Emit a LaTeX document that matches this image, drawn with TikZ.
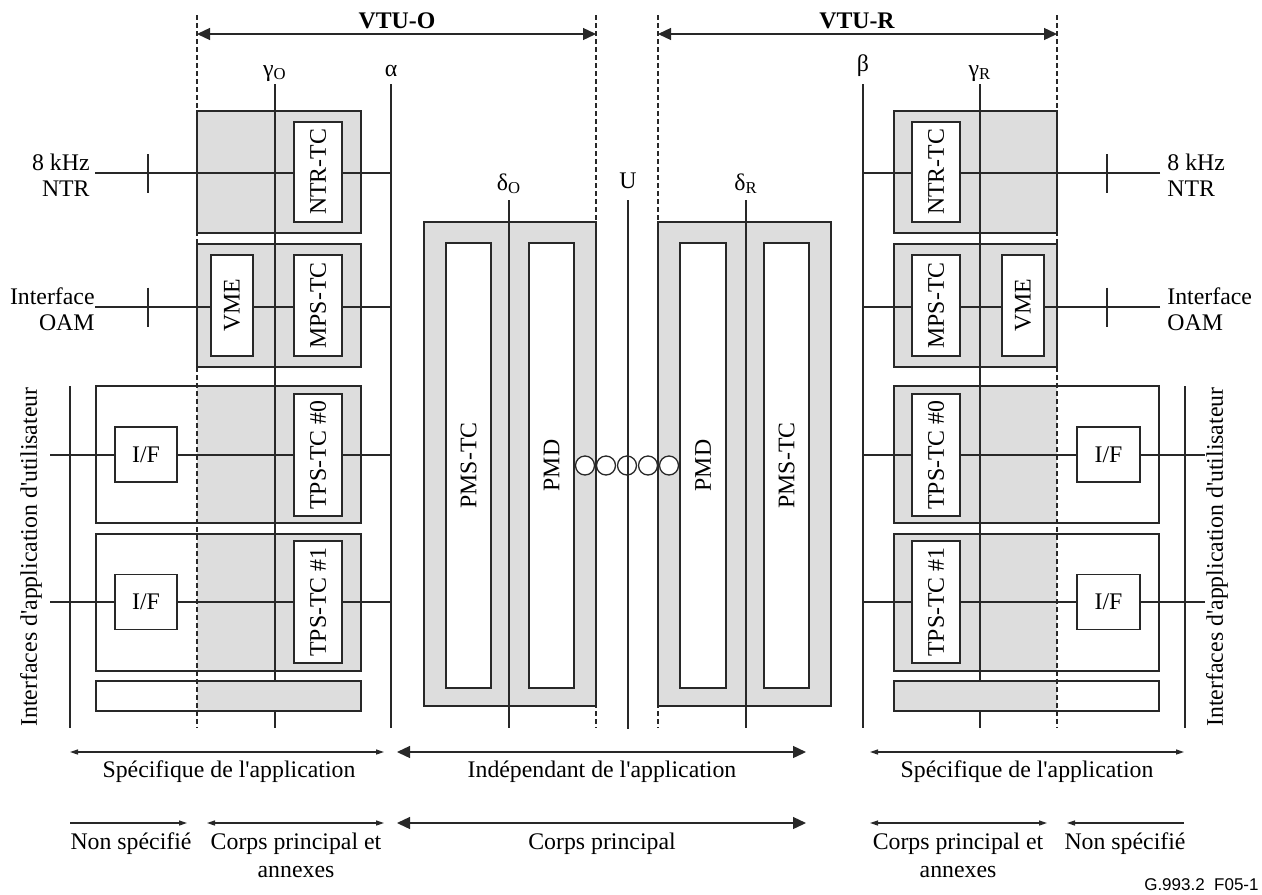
\documentclass[tikz,border=0pt]{standalone}
\usepackage{fontspec}
\setmainfont{Liberation Serif}[Ligatures=TeXOff]
\newfontfamily\figsans{Liberation Sans}
\usetikzlibrary{arrows.meta}

\definecolor{lgray}{RGB}{221,221,221}
\definecolor{ink}{RGB}{40,40,40}

\begin{document}
\begin{tikzpicture}[
        x=0.5pt, y=-0.5pt,
        font=\fontsize{11.9}{13}\selectfont,
        ln/.style={draw=ink, line width=0.65pt},
        dsh/.style={draw=ink, line width=0.65pt, dash pattern=on 2.5pt off 1.5pt},
        tkblk/.style={draw=ink, line width=1pt, fill=lgray, inner sep=0pt},
        thblk/.style={draw=ink, line width=0.65pt, inner sep=0pt},
        halfO/.style={thblk, fill=white,
            path picture={\fill[lgray] (path picture bounding box.north east) rectangle (path picture bounding box.south west -| dO);}},
        halfR/.style={thblk, fill=white,
            path picture={\fill[lgray] (path picture bounding box.north west) rectangle (path picture bounding box.south east -| dR);}},
        tcbox/.style={draw=ink, line width=0.65pt, fill=white, rotate=90, inner sep=0pt, minimum height=24pt},
        ifbox/.style={draw=ink, line width=0.65pt, fill=white, inner sep=0pt, minimum width=31pt, minimum height=27.5pt},
        refl/.style={inner sep=0pt, anchor=base},
        hdr/.style={refl, font=\fontsize{11.9}{13}\selectfont\bfseries},
        sidetxt/.style={inner sep=0pt, align=#1},
        undertxt/.style={inner sep=0pt, anchor=north, align=center, font=\fontsize{11.9}{14}\selectfont},
        bigarr/.style={ln, {Triangle[length=6.5pt,width=6pt]}-{Triangle[length=6.5pt,width=6pt]}},
        smlarr/.style={ln, {Triangle[length=4pt,width=2.5pt]}-{Triangle[length=4pt,width=2.5pt]}},
        endarr/.style={ln, -{Triangle[length=4pt,width=2.5pt]}}
    ]
    \useasboundingbox (0,0) rectangle (1262,894);

    \coordinate (dO) at (197,15);
    \coordinate (dOc) at (596,15);
    \coordinate (dRc) at (658,15);
    \coordinate (dR) at (1057,15);
    \coordinate (bot) at (0,728);
    \coordinate (vtu) at (0,34);

    % VTU-O side
    \node[tkblk, minimum width=82pt, minimum height=61pt] (blkNtrO) at (279,172) {};
    \node[tkblk, minimum width=82pt, minimum height=61.5pt] (blkMpsO) at (279,305.5) {};
    \node[halfO, minimum width=132.5pt, minimum height=68.5pt] (blkTps0O) at (228.5,454.5) {};
    \node[halfO, minimum width=132.5pt, minimum height=68.5pt] (blkTps1O) at (228.5,602.5) {};

    % VTU-R side
    \node[tkblk, minimum width=81.5pt, minimum height=61pt] (blkNtrR) at (975.5,172) {};
    \node[tkblk, minimum width=81.5pt, minimum height=61.5pt] (blkMpsR) at (975.5,305.5) {};
    \node[halfR, minimum width=132.5pt, minimum height=68.5pt] (blkTps0R) at (1026.5,454.5) {};
    \node[halfR, minimum width=132.5pt, minimum height=68.5pt] (blkTps1R) at (1026.5,602.5) {};

    \node[thblk, fill=lgray, minimum width=86pt, minimum height=242pt] (blkPmsO) at (510,464) {};
    \node[thblk, fill=lgray, minimum width=86.5pt, minimum height=242pt] (blkPmsR) at (744.5,464) {};

    \node[refl] (lgO) at (275,76) {γ\textsubscript{O}};
    \node[refl] (lal) at (391,76) {α};
    \node[refl] (lbe) at (863,71) {β};
    \node[refl] (lgR) at (980,76) {γ\textsubscript{R}};
    \node[refl] (ldO) at (509,190) {δ\textsubscript{O}};
    \node[refl] (lU) at (628,188) {U};
    \node[refl] (ldR) at (746,190) {δ\textsubscript{R}};

    \coordinate (gO) at (275,84);
    \coordinate (al) at (391,84);
    \coordinate (be) at (863,84);
    \coordinate (gR) at (980,84);
    \coordinate (deO) at (509,200);
    \coordinate (uu) at (628,200);
    \coordinate (deR) at (746,200);
    \coordinate (usrO) at (70,386);
    \coordinate (usrR) at (1185,386);
    \foreach \p in {gO,al,be,gR,deO,deR,usrO,usrR}
        \draw[ln] (\p) -- (\p |- bot);

    \coordinate (ntrInO) at (95,173);
    \coordinate (oamInO) at (95,307);
    \coordinate (ui0O) at (50,455);
    \coordinate (ui1O) at (50,602);
    \coordinate (ntrInR) at (1160,173);
    \coordinate (oamInR) at (1160,307);
    \coordinate (ui0R) at (1205,455);
    \coordinate (ui1R) at (1205,602);
    \foreach \p in {ntrInO,oamInO,ui0O,ui1O}
        \draw[ln] (\p) -- (\p -| al);
    \foreach \p in {ntrInR,oamInR,ui0R,ui1R}
        \draw[ln] (\p) -- (\p -| be);

    \coordinate (tkNtrO) at (148,173.5);
    \coordinate (tkOamO) at (148,307);
    \coordinate (tkNtrR) at (1107,173.5);
    \coordinate (tkOamR) at (1107,307);
    \foreach \p in {tkNtrO,tkOamO,tkNtrR,tkOamR}
        \draw[ln] (\p) ++(0,-19.5) -- ++(0,39);

    \node[halfO, minimum width=132.5pt, minimum height=15pt] (barO) at (228.5,696) {};
    \node[halfR, minimum width=132.5pt, minimum height=15pt] (barR) at (1026.5,696) {};

    \node[tcbox, minimum width=50pt] (ntrO) at (318,172) {NTR-TC};
    \node[tcbox, minimum width=50.5pt, minimum height=21pt] (vmeO) at (232,305.5) {VME};
    \node[tcbox, minimum width=50.5pt] (mpsO) at (318,305.5) {MPS-TC};
    \node[tcbox, minimum width=61pt] (tps0O) at (318,455) {TPS-TC \#0};
    \node[tcbox, minimum width=61pt] (tps1O) at (318,602) {TPS-TC \#1};
    \node[ifbox] (if0O) at (146,454.5) {I/F};
    \node[ifbox] (if1O) at (146,602) {I/F};

    \node[tcbox, minimum width=50pt] (ntrR) at (936,172) {NTR-TC};
    \node[tcbox, minimum width=50.5pt] (mpsR) at (936,305.5) {MPS-TC};
    \node[tcbox, minimum width=50.5pt, minimum height=21pt] (vmeR) at (1023,305.5) {VME};
    \node[tcbox, minimum width=61pt] (tps0R) at (936,455) {TPS-TC \#0};
    \node[tcbox, minimum width=61pt] (tps1R) at (936,602) {TPS-TC \#1};
    \node[ifbox, minimum width=31.5pt] (if0R) at (1108.5,454.5) {I/F};
    \node[ifbox, minimum width=31.5pt] (if1R) at (1108.5,602) {I/F};

    \node[tcbox, minimum width=222.5pt, minimum height=22.5pt] (pmstcO) at (468.5,465.5) {PMS-TC};
    \node[tcbox, minimum width=222.5pt, minimum height=22.5pt] (pmdO) at (551.5,465.5) {PMD};
    \node[tcbox, minimum width=222.5pt, minimum height=23pt] (pmdR) at (703,465.5) {PMD};
    \node[tcbox, minimum width=222.5pt, minimum height=22.5pt] (pmstcR) at (786.5,465.5) {PMS-TC};

    \foreach \cx in {585,606,627,648,669}
        \draw[ln, fill=white] (\cx,465.5) circle[radius=4.75pt];
    \draw[ln] (uu) -- (uu |- 0,729);

    \foreach \p in {dO,dOc,dRc,dR}
        \draw[dsh] (\p) -- (\p |- bot);

    \draw[bigarr] (dO |- vtu) -- (dOc |- vtu);
    \draw[bigarr] (dRc |- vtu) -- (dR |- vtu);
    \node[hdr] (vtuO) at (397,28) {VTU-O};
    \node[hdr] (vtuR) at (857,28) {VTU-R};

    \node[sidetxt=right, anchor=east] (ntrTxtO) at (90,175) {8 kHz\\NTR};
    \node[sidetxt=right, anchor=east] (oamTxtO) at (95,309.5) {Interface\\OAM};
    \node[sidetxt=left, anchor=west] (ntrTxtR) at (1167,175) {8 kHz\\NTR};
    \node[sidetxt=left, anchor=west] (oamTxtR) at (1167,309.5) {Interface\\OAM};
    \node[rotate=90, inner sep=0pt] (usrTxtO) at (31,557) {Interfaces d'application d'utilisateur};
    \node[rotate=90, inner sep=0pt] (usrTxtR) at (1217,557) {Interfaces d'application d'utilisateur};

    \coordinate (s1a) at (70,752);
    \coordinate (s1b) at (384,752);
    \coordinate (s2a) at (397,752);
    \coordinate (s2b) at (806,752);
    \coordinate (s3a) at (870,752);
    \coordinate (s3b) at (1184,752);
    \coordinate (t1a) at (70,823);
    \coordinate (t1b) at (187,823);
    \coordinate (t2a) at (207,823);
    \coordinate (t2b) at (384,823);
    \coordinate (t3a) at (397,823);
    \coordinate (t3b) at (806,823);
    \coordinate (t4a) at (870,823);
    \coordinate (t4b) at (1047,823);
    \coordinate (t5a) at (1067,823);
    \coordinate (t5b) at (1184,823);

    \draw[smlarr] (s1a) -- (s1b);
    \draw[bigarr] (s2a) -- (s2b);
    \draw[smlarr] (s3a) -- (s3b);
    \draw[endarr] (t1a) -- (t1b);
    \draw[smlarr] (t2a) -- (t2b);
    \draw[bigarr] (t3a) -- (t3b);
    \draw[smlarr] (t4a) -- (t4b);
    \draw[endarr] (t5b) -- (t5a);

    \node[refl] (specO) at (229,777) {Spécifique de l'application};
    \node[refl] (indep) at (602,777) {Indépendant de l'application};
    \node[refl] (specR) at (1027,777) {Spécifique de l'application};
    \node[refl] (nonO) at (131,849) {Non spécifié};
    \node[undertxt] (corpsO) at (296,833) {Corps principal et\\annexes};
    \node[refl] (corps) at (602,849) {Corps principal};
    \node[undertxt] (corpsR) at (958,833) {Corps principal et\\annexes};
    \node[refl] (nonR) at (1125,849) {Non spécifié};

    \node[inner sep=0pt, anchor=base east, font=\figsans\fontsize{8.5}{10}\selectfont] (figid) at (1259,890) {G.993.2~~F05-1};
\end{tikzpicture}
\end{document}
